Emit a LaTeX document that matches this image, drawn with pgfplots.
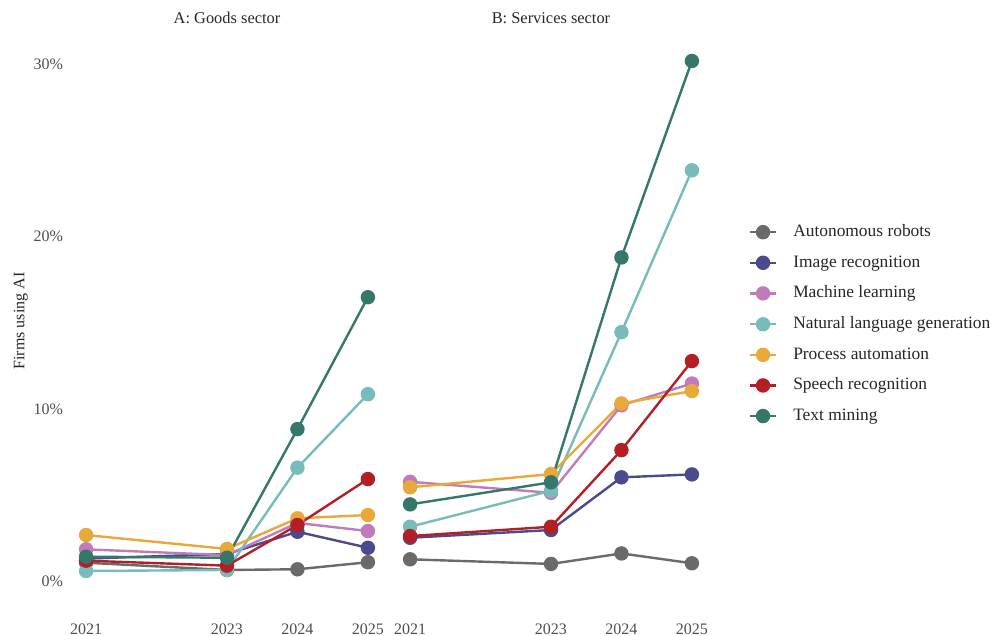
\documentclass[border=0pt]{standalone}
\usepackage{fontspec}
\setmainfont{Liberation Serif}
\usepackage{pgfplots}
\usepackage{pgfplotstable}
\pgfplotsset{compat=1.18}

\definecolor{cRobot}{HTML}{6A6A6A}
\definecolor{cImage}{HTML}{4A4A8C}
\definecolor{cML}{HTML}{C27BB9}
\definecolor{cNLG}{HTML}{77BBBB}
\definecolor{cPA}{HTML}{E9A83A}
\definecolor{cSpeech}{HTML}{B21F25}
\definecolor{cText}{HTML}{35786B}
\definecolor{tickgray}{HTML}{4D4D4D}

% Share of firms using each AI technology (percent)
\pgfplotstableread{
year Robot Image ML NLG PA Speech Text
2021 1.06 1.30 1.84 0.58 2.67 1.18 1.41
2023 0.64 1.57 1.50 0.64 1.86 0.89 1.35
2024 0.68 2.86 3.37 6.58 3.64 3.25 8.82
2025 1.09 1.93 2.90 10.85 3.83 5.92 16.48
}\goods
\pgfplotstableread{
year Robot Image ML NLG PA Speech Text
2021 1.26 2.51 5.76 3.15 5.44 2.61 4.45
2023 0.99 2.96 5.12 5.24 6.21 3.15 5.73
2024 1.60 6.02 10.20 14.45 10.31 7.60 18.79
2025 1.03 6.19 11.47 23.85 11.03 12.77 30.20
}\services

\pgfplotsset{
  panel/.style={
    scale only axis, width=155pt, height=286pt,
    xmin=2020.8, xmax=2025.2, ymin=-1.51, ymax=31.71,
    axis line style={draw=none}, tick style={draw=none},
    major tick length=0pt,
    xtick={2021,2023,2024,2025},
    xticklabels={2021,2023,2024,2025},
    ytick={0,10,20,30},
    tick label style={font=\fontsize{8}{9}\selectfont, text=tickgray},
    xticklabel style={yshift=-5pt},
    title style={at={(axis description cs:0.5,1)}, anchor=base, yshift=-0.5pt,
      font=\fontsize{8.2}{9}\selectfont, text=black!85},
    every axis plot/.append style={line width=1.2pt, mark=*, mark size=3pt},
    clip=false,
  },
  legend image code/.code={
    \draw[mark repeat=2, mark phase=2, #1]
      plot coordinates {(0pt,0pt) (6.5pt,0pt) (13pt,0pt)};
  },
}

\begin{document}
\begin{tikzpicture}
\useasboundingbox (-36pt,-14.5pt) rectangle (460pt,303.5pt);
\begin{axis}[panel, name=A, at={(0pt,0pt)}, anchor=south west,
  title={A: Goods sector},
  yticklabels={0\%,10\%,20\%,30\%},
  yticklabel style={xshift=-1pt},
  ylabel={Firms using AI},
  ylabel style={at={(axis description cs:-0.165,0.5)}, anchor=center,
    font=\fontsize{8}{9}\selectfont, text=black!85},
]
\addplot[color=cRobot] table[x=year,y=Robot]{\goods};
\addplot[color=cImage] table[x=year,y=Image]{\goods};
\addplot[color=cML] table[x=year,y=ML]{\goods};
\addplot[color=cNLG] table[x=year,y=NLG]{\goods};
\addplot[color=cPA] table[x=year,y=PA]{\goods};
\addplot[color=cSpeech] table[x=year,y=Speech]{\goods};
\addplot[color=cText] table[x=year,y=Text]{\goods};
\end{axis}
\begin{axis}[panel, name=B, at={(162pt,0pt)}, anchor=south west,
  title={B: Services sector},
  yticklabels={},
  legend style={at={(axis description cs:1.137,0.5)}, anchor=west,
    yshift=-1.5pt,
    draw=none, fill=none, inner sep=0pt,
    font=\fontsize{8.7}{9.5}\selectfont, text=black!85,
    row sep=4.9pt, column sep=6.5pt,
    nodes={inner sep=1.5pt}},
  legend cell align=left,
]
\addplot[color=cRobot] table[x=year,y=Robot]{\services};
\addplot[color=cImage] table[x=year,y=Image]{\services};
\addplot[color=cML] table[x=year,y=ML]{\services};
\addplot[color=cNLG] table[x=year,y=NLG]{\services};
\addplot[color=cPA] table[x=year,y=PA]{\services};
\addplot[color=cSpeech] table[x=year,y=Speech]{\services};
\addplot[color=cText] table[x=year,y=Text]{\services};
\legend{Autonomous robots, Image recognition, Machine learning,
  Natural language generation, Process automation,
  Speech recognition, Text mining}
\end{axis}
\end{tikzpicture}
\end{document}
